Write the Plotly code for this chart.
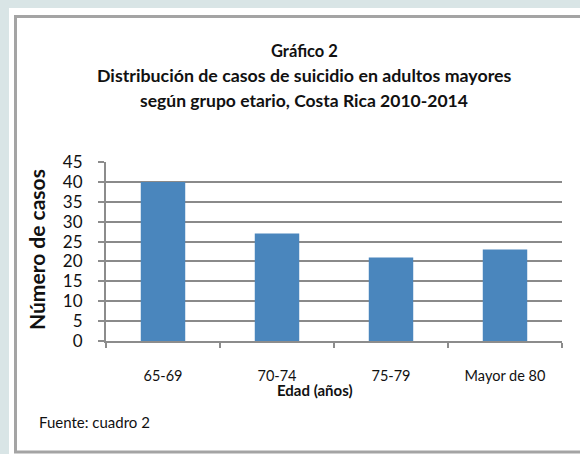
import plotly.graph_objects as go

categories = ["65-69", "70-74", "75-79", "Mayor de 80"]
values = [40, 27, 21, 23]
y_ticks = [0, 5, 10, 15, 20, 25, 30, 35, 40, 45]

title_lines = ["Gráfico 2",
               "Distribución de casos de suicidio en adultos mayores",
               "según grupo etario, Costa Rica 2010-2014"]

W, H = 580, 454
L, R, T, B = 106, 18, 162, 113
PW, PH = W - L - R, H - T - B

def px(x):
    return (x - L) / PW

def py(y):
    return (H - B - y) / PH

FONT = "Lato"
TXT = "#111111"

fig = go.Figure(go.Bar(
    x=categories, y=values,
    marker=dict(color="#4a86bd", line=dict(width=0)),
    width=0.39,
))

shapes = [
    dict(type="rect", xref="paper", yref="paper", x0=px(9), x1=px(620), y0=py(8), y1=py(480),
         fillcolor="white", line=dict(width=0), layer="below"),
    dict(type="rect", xref="paper", yref="paper", x0=px(15.5), x1=px(620), y0=py(16.5), y1=py(452),
         fillcolor="rgba(0,0,0,0)", line=dict(width=3, color="#a4a4a4"), layer="below"),
]

annotations = []
for t, yy, fs in zip(title_lines, [51, 75, 100], [16.5, 17.8, 17.5]):
    annotations.append(dict(text=f"<b>{t}</b>", xref="paper", yref="paper",
                            x=px(304), y=py(yy), xanchor="center", yanchor="middle",
                            showarrow=False, font=dict(family=FONT, size=fs, color=TXT)))
annotations.append(dict(text="<b>Número de casos</b>", xref="paper", yref="paper",
                        x=px(36), y=py(250), xanchor="center", yanchor="middle", textangle=-90,
                        showarrow=False, font=dict(family=FONT, size=21, color=TXT)))
annotations.append(dict(text="<b>Edad (años)</b>", xref="paper", yref="paper",
                        x=px(315), y=py(390), xanchor="center", yanchor="middle",
                        showarrow=False, font=dict(family=FONT, size=15, color=TXT)))
annotations.append(dict(text="Fuente: cuadro 2", xref="paper", yref="paper",
                        x=px(37), y=py(422), xanchor="left", yanchor="middle",
                        showarrow=False, font=dict(family=FONT, size=15, color=TXT)))

fig.update_layout(
    width=W, height=H,
    margin=dict(l=L, r=R, t=T, b=B, pad=0),
    paper_bgcolor="#d9e5e6",
    plot_bgcolor="rgba(0,0,0,0)",
    showlegend=False,
    shapes=shapes,
    annotations=annotations,
    xaxis=dict(
        type="category", tickson="boundaries", ticks="outside", ticklen=5, tickwidth=2,
        tickcolor="#8c8c8c", showline=True, linecolor="#8c8c8c", linewidth=2,
        showgrid=False, ticklabelstandoff=21,
        tickfont=dict(family=FONT, size=14.5, color=TXT),
    ),
    yaxis=dict(
        range=[0, 45], tickvals=y_ticks, ticks="outside", ticklen=6, tickwidth=2,
        tickcolor="#8c8c8c", showline=True, linecolor="#8c8c8c", linewidth=2,
        showgrid=True, gridcolor="#8a8a8a", gridwidth=2, zeroline=False,
        ticklabelstandoff=12,
        tickfont=dict(family=FONT, size=17, color=TXT),
    ),
)

fig.write_html("out.html", config={"displayModeBar": False},
               post_script="document.body.style.margin='0';")
